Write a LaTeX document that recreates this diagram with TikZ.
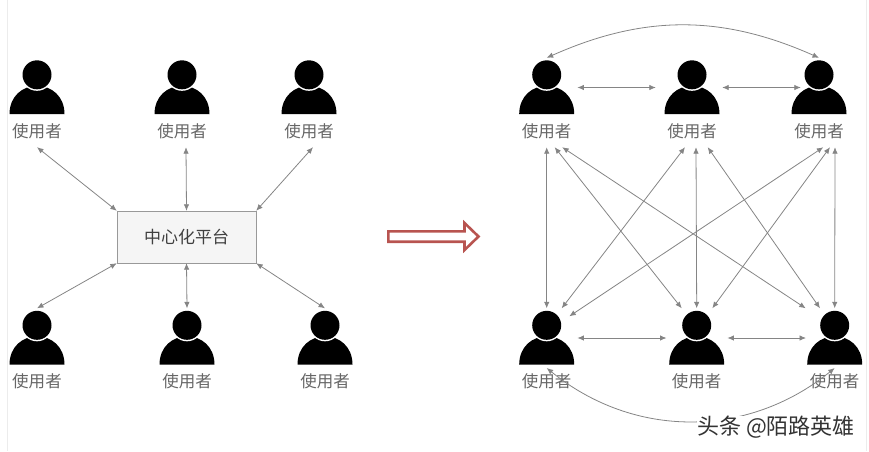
\documentclass[tikz,border=0pt]{standalone}
\usepackage{fontspec}
\setmainfont{Noto Sans CJK SC}
\usetikzlibrary{arrows.meta}
\definecolor{linkgray}{HTML}{858585}
\definecolor{labelgray}{HTML}{666666}
\definecolor{shiftred}{HTML}{B85450}
\tikzset{
  user/.style={minimum width=57pt, inner sep=0pt, text height=79pt, text depth=10pt,
    font=\fontsize{16.5}{16.5}\selectfont, text=labelgray},
  usericon/.pic={
    \fill[black] (-27.5,56.3) .. controls (-27.5,38) and (-14,28) .. (0,28)
      .. controls (14,28) and (27.5,38) .. (27.5,56.3) -- cycle;
    \fill[white] (0,17) circle (16);
    \fill[black] (0,17) circle (14.5);
  },
  link/.style={{Latex[length=6.5pt,width=5.5pt]}-{Latex[length=6.5pt,width=5.5pt]}, draw=linkgray, line width=0.8pt},
}
\begin{document}
\begin{tikzpicture}[x=1pt, y=-1pt]
\useasboundingbox (0,0) rectangle (869,451);
\draw[gray!15, line width=1pt] (7.5,0) -- (7.5,451);
\draw[gray!15, line width=1pt] (866,0) -- (866,451);

% left side
\node[user] (l1) at (37,102.5) {使用者};
\node[user] (l2) at (182,102.5) {使用者};
\node[user] (l3) at (309,102.5) {使用者};
\node[user] (l4) at (37,353) {使用者};
\node[user] (l5) at (187,353) {使用者};
\node[user] (l6) at (325,353) {使用者};
\node[draw=gray!80, fill=gray!8, minimum width=139pt, minimum height=52pt, inner sep=0pt,
  font=\fontsize{17}{17}\selectfont, text=black!75] (hub) at (186.5,237) {中心化平台};

\draw[link] (l1.south) -- (hub.north west);
\draw[link] ([xshift=4pt]l2.south) -- (hub.north);
\draw[link] ([xshift=4pt]l3.south) -- (hub.north east);
\draw[link] (l4.north) -- (hub.south west);
\draw[link] (l5.north) -- (hub.south);
\draw[link] (l6.north) -- (hub.south east);

% middle arrow
\draw[shiftred, line width=2.6pt, miter limit=10] (388.3,231.3) -- (464.5,231.3) -- (464.5,223)
  -- (478.5,236.5) -- (464.5,250) -- (464.5,241.7) -- (388.3,241.7) -- cycle;

% right side
\node[user] (a1) at (546.7,102.5) {使用者};
\node[user] (a2) at (692,102.5) {使用者};
\node[user] (a3) at (819,102.5) {使用者};
\node[user] (b1) at (546.7,353) {使用者};
\node[user] (b2) at (696.7,353) {使用者};
\node[user] (b3) at (834.7,353) {使用者};

\draw[link] ([shift={(2,-15)}]a1.east) -- ([shift={(-7.5,-15)}]a2.west);
\draw[link] ([shift={(1.5,-15)}]a2.east) -- ([shift={(10.5,-15)}]a3.west);
\draw[link] ([shift={(2,-15)}]b1.east) -- ([shift={(-1.5,-15)}]b2.west);
\draw[link] ([shift={(2,-15)}]b2.east) -- ([shift={(0,-15)}]b3.west);

\draw[link] (a1.north) to[bend left=24] (a3.north);
\draw[link] ([yshift=-15pt]b1.center) to[bend right=39] ([yshift=-15pt]b3.center);

\draw[link] (a1.south) -- (b1.north);
\draw[link] ([xshift=8pt]a1.south) -- ([xshift=-15pt]b2.north);
\draw[link] ([xshift=15.5pt]a1.south) -- ([xshift=-29pt]b3.north);
\draw[link] ([xshift=-7pt]a2.south) -- ([xshift=15pt]b1.north);
\draw[link] ([xshift=4pt]a2.south) -- (b2.north);
\draw[link] ([xshift=15.7pt]a2.south) -- ([xshift=-14.7pt]b3.north);
\draw[link] ([xshift=4.3pt]a3.south) -- ([shift={(22.6,8)}]b1.north);
\draw[link] ([xshift=11pt]a3.south) -- ([xshift=15.6pt]b2.north);
\draw[link] ([xshift=16pt]a3.south) -- (b3.north);

% icons go on top of the nodes
\foreach \n in {l1,l2,l3,l4,l5,l6,a1,a2,a3,b1,b2,b3}
  \pic at (\n.north) {usericon};

\node[font=\fontsize{22}{22}\selectfont, text=black!80, fill=white, inner sep=0pt] (mark) at (776,427) {头条 @陌路英雄};
\end{tikzpicture}
\end{document}
